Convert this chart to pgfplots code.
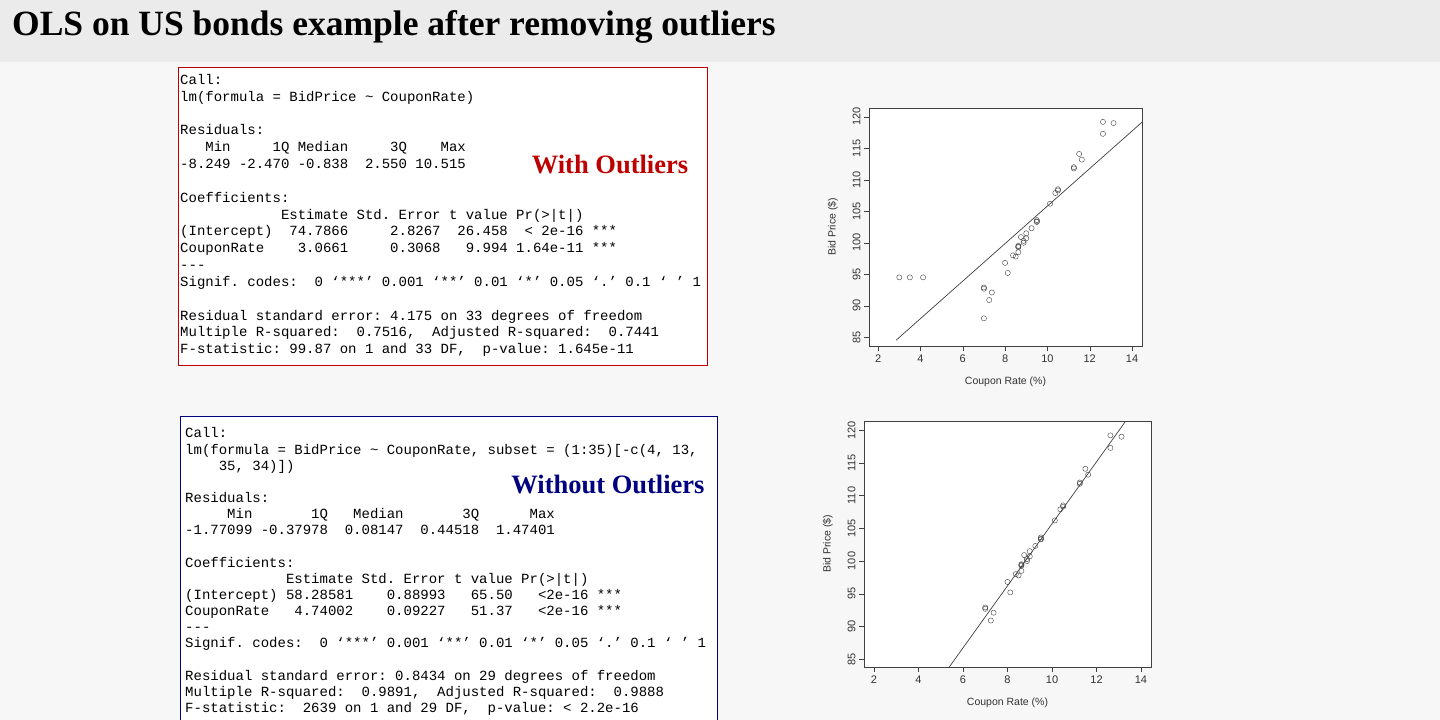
\documentclass[border=0pt]{standalone}
\usepackage{pgfplots}
\pgfplotsset{compat=1.18}
\usepackage{fontspec}
\setmainfont{Liberation Sans}
\newfontfamily\serif{Liberation Serif}
\newfontfamily\mono{Liberation Mono}
\newcommand\ml[3]{\node[anchor=west,inner sep=0pt] at (#1pt,-#2pt) {\strut #3};}
\pgfplotstableread{
x y
3 94.5
3.5 94.5
4.125 94.5
7 92.9
7 92.7
7 88
7.25 90.9
7.375 92.1
8 96.8
8.125 95.2
8.375 98
8.5 97.8
8.625 98.5
8.625 99.4
8.625 99.3
8.625 99.5
8.75 100.9
8.875 100
8.875 100.3
9 100.7
9 101.5
9.25 102.3
9.5 103.4
9.5 103.6
9.5 103.3
10.125 106.2
10.375 107.9
10.5 108.3
10.5 108.5
11.25 111.8
11.25 112
11.5 114.1
11.625 113.2
12.625 119.2
12.625 117.3
13.125 119
}\alld
\pgfplotstableread{
x y
7 92.9
7 92.7
7.25 90.9
7.375 92.1
8 96.8
8.125 95.2
8.375 98
8.5 97.8
8.625 98.5
8.625 99.4
8.625 99.3
8.625 99.5
8.75 100.9
8.875 100
8.875 100.3
9 100.7
9 101.5
9.25 102.3
9.5 103.4
9.5 103.6
9.5 103.3
10.125 106.2
10.375 107.9
10.5 108.3
10.5 108.5
11.25 111.8
11.25 112
11.5 114.1
11.625 113.2
12.625 119.2
12.625 117.3
13.125 119
}\subd
\pgfplotsset{rplot/.style={
  scale only axis, axis line style={line width=0.8pt, black!75},
  xtick={2,4,...,14}, ytick={85,90,...,120},
  tick align=outside, xtick pos=bottom, ytick pos=left,
  major tick length=5pt, tick style={black!75},
  ticklabel style={font=\fontsize{11}{12}\selectfont, text=black!80},
  yticklabel style={rotate=90, anchor=south},
  /pgf/number format/assume math mode=true,
  label style={font=\fontsize{10.5}{12}\selectfont, text=black!80},
  xlabel style={yshift=-8pt}, ylabel style={yshift=8pt},
  xlabel={Coupon Rate (\%)}, ylabel={Bid Price (\$)},
  clip=true,
}}
\begin{document}
\begin{tikzpicture}
\clip (0,0) rectangle (1440pt,-720pt);
\fill[white!97!black] (0,0) rectangle (1440pt,-720pt);
\fill[black!8] (0,0) rectangle (1440pt,-62pt);
\node[anchor=west,inner sep=0pt] at (12pt,-27pt) {\serif\bfseries\fontsize{35.5}{38}\selectfont OLS on US bonds example after removing outliers};
% top box
\fill[white] (178pt,-67pt) rectangle (707pt,-365pt);
\draw[red!75!black, line width=1pt] (178pt,-67pt) rectangle (707pt,-365pt);
\begin{scope}[font=\mono\fontsize{14}{15}\selectfont]
\ml{180}{81}{Call:}
\ml{180}{98}{lm(formula~=~BidPrice~\textasciitilde{}~CouponRate)}
\ml{180}{131}{Residuals:}
\ml{180}{148}{~~~Min~~~~~1Q~Median~~~~~3Q~~~~Max~}
\ml{180}{165}{-8.249~-2.470~-0.838~~2.550~10.515~}
\ml{180}{199}{Coefficients:}
\ml{180}{216}{~~~~~~~~~~~~Estimate~Std.~Error~t~value~Pr(>|t|)~~~~}
\ml{180}{232}{(Intercept)~~74.7866~~~~~2.8267~~26.458~~<~2e-16~***}
\ml{180}{249}{CouponRate~~~~3.0661~~~~~0.3068~~~9.994~1.64e-11~***}
\ml{180}{266}{---}
\ml{180}{283}{Signif.~codes:~~0~‘***’~0.001~‘**’~0.01~‘*’~0.05~‘.’~0.1~‘~’~1}
\ml{180}{317}{Residual~standard~error:~4.175~on~33~degrees~of~freedom}
\ml{180}{333}{Multiple~R-squared:~~0.7516,\ \ Adjusted~R-squared:~~0.7441~}
\ml{180}{350}{F-statistic:~99.87~on~1~and~33~DF,~~p-value:~1.645e-11}
\end{scope}
\node[anchor=center,inner sep=0pt] at (610pt,-165pt) {\serif\bfseries\fontsize{26.5}{28}\selectfont\color{red!75!black}With Outliers};
% bottom box
\fill[white] (180pt,-416pt) rectangle (717pt,-740pt);
\draw[blue!50!black, line width=1pt] (180pt,-416pt) rectangle (717pt,-740pt);
\begin{scope}[font=\mono\fontsize{14}{15}\selectfont]
\ml{185}{434}{Call:}
\ml{185}{451}{lm(formula~=~BidPrice~\textasciitilde{}~CouponRate,~subset~=~(1:35)[-c(4,~13,}
\ml{185}{467}{~~~~35,~34)])}
\ml{185}{499}{Residuals:}
\ml{185}{515}{~~~~~Min~~~~~~~1Q~~~Median~~~~~~~3Q~~~~~~Max~}
\ml{185}{531}{-1.77099~-0.37978~~0.08147~~0.44518~~1.47401~}
\ml{185}{564}{Coefficients:}
\ml{185}{580}{~~~~~~~~~~~~Estimate~Std.~Error~t~value~Pr(>|t|)~~~~}
\ml{185}{596}{(Intercept)~58.28581~~~~0.88993~~~65.50~~~<2e-16~***}
\ml{185}{612}{CouponRate~~~4.74002~~~~0.09227~~~51.37~~~<2e-16~***}
\ml{185}{628}{---}
\ml{185}{644}{Signif.~codes:~~0~‘***’~0.001~‘**’~0.01~‘*’~0.05~‘.’~0.1~‘~’~1}
\ml{185}{677}{Residual~standard~error:~0.8434~on~29~degrees~of~freedom}
\ml{185}{693}{Multiple~R-squared:~~0.9891,\ \ Adjusted~R-squared:~~0.9888~}
\ml{185}{709}{F-statistic:~~2639~on~1~and~29~DF,~~p-value:~<~2.2e-16}
\end{scope}
\node[anchor=center,inner sep=0pt] at (608pt,-485pt) {\serif\bfseries\fontsize{26.5}{28}\selectfont\color{blue!50!black}Without Outliers};
% plots
\fill[white] (869pt,-108pt) rectangle (1142pt,-346pt);
\begin{axis}[rplot, at={(869pt,-108pt)}, anchor=north west,
  width=273pt, height=238pt, xmin=1.57, xmax=14.47, ymin=83.6, ymax=121.4]
\addplot[only marks, mark=o, mark size=2.6pt, black!75] table[x=x,y=y] {\alld};
\addplot[black!75, line width=0.7pt] coordinates {(2.85,84.52) (14.47,119.15)};
\end{axis}
\fill[white] (864pt,-421pt) rectangle (1151pt,-667pt);
\begin{axis}[rplot, at={(864pt,-421pt)}, anchor=north west,
  width=287pt, height=246pt, xmin=1.55, xmax=14.45, ymin=83.8, ymax=121.4]
\addplot[only marks, mark=o, mark size=2.6pt, black!75] table[x=x,y=y] {\subd};
\addplot[black!75, line width=0.7pt] coordinates {(5.3,83.41) (13.4,121.8)};
\end{axis}
\end{tikzpicture}
\end{document}
